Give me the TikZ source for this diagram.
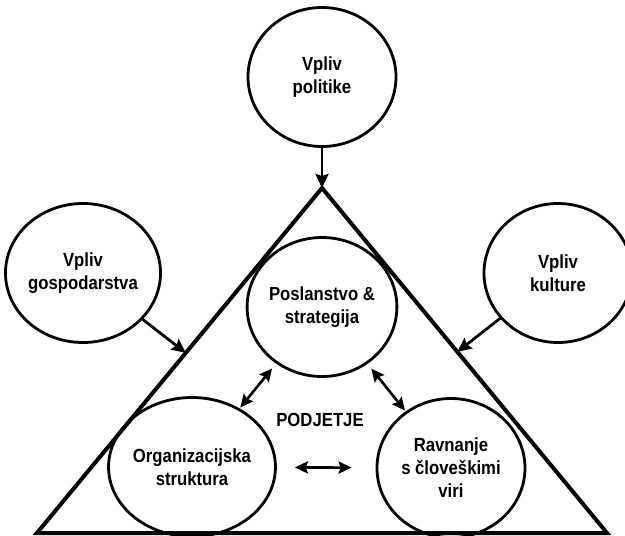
\documentclass[tikz,border=0pt]{standalone}
\usepackage{fontspec}
\setmainfont{Liberation Sans}[FakeStretch=0.88]
\usetikzlibrary{shapes.geometric,arrows.meta,calc}

\begin{document}
\begin{tikzpicture}[
   x=1pt, y=-1pt,
   vpliv/.style={draw, ellipse, line width=2.8pt, inner sep=0pt,
                 minimum width=148pt, minimum height=139pt, align=center},
   puscica/.style={line width=2.8pt, -{Stealth[length=14pt,width=13pt,inset=2pt]}},
   dvojna/.style={line width=2.6pt, {Stealth[length=13pt,width=12pt,inset=2pt]}-{Stealth[length=13pt,width=12pt,inset=2pt]}},
   every node/.style={font=\fontsize{19}{23}\selectfont\bfseries}]

\clip (0,0) rectangle (625,536);

% okolje
\node[vpliv] (pol) at (322,77) {Vpliv\\politike};
\node[vpliv] (gosp) at (83,273) {Vpliv\\gospodarstva};
\node[vpliv] (kult) at (558,273) {Vpliv\\kulture};

% podjetje
\coordinate (vrh) at (322,188);
\coordinate (levo) at (37,533);
\coordinate (desno) at (607,533);
\draw[line width=4pt, line join=miter] (vrh) -- (levo) -- (desno) -- cycle;

\node[vpliv] (posl) at (322,307) {Poslanstvo \&\\strategija};
\node[vpliv] (org) at (192,467) {Organizacijska\\struktura};
\node[vpliv] (ravn) at (451,468) {Ravnanje\\s človeškimi\\viri};
\node (podj) at (320,420) {PODJETJE};

\coordinate (lstr) at ($(vrh)!0.478!(levo)$);
\coordinate (dstr) at ($(vrh)!0.475!(desno)$);

% vplivi
\draw[puscica] (pol) -- (vrh);
\draw[puscica] (gosp) -- (lstr);
\draw[puscica] (kult) -- (dstr);

% povezave
\draw[dvojna, shorten <=6pt, shorten >=1pt] (posl) -- (org);
\draw[dvojna, shorten <=6pt, shorten >=1pt] (posl) -- (ravn);
\draw[dvojna, shorten <=18pt, shorten >=24pt] (org) -- (ravn);

\end{tikzpicture}
\end{document}
